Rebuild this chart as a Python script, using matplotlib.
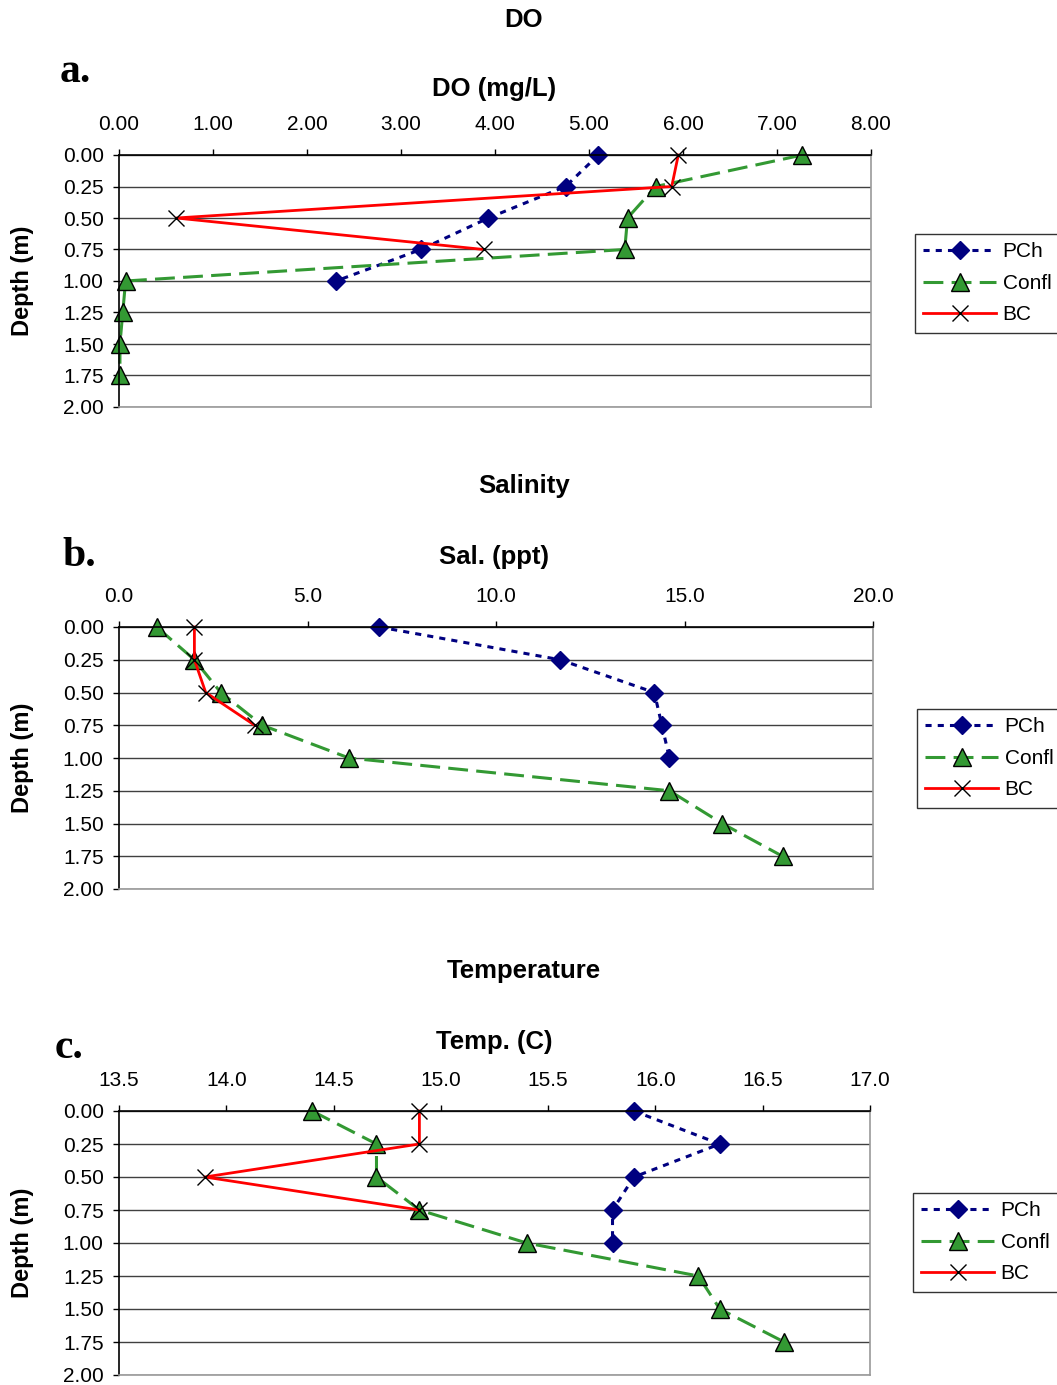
import matplotlib.pyplot as plt
from matplotlib.ticker import FormatStrFormatter

plt.rcParams['font.family'] = ['Liberation Sans', 'DejaVu Sans']

depth = [0.0, 0.25, 0.5, 0.75, 1.0, 1.25, 1.5, 1.75]

# DO (mg/L)
do_pch = [5.10, 4.75, 3.93, 3.21, 2.31]
do_confl = [7.27, 5.71, 5.41, 5.38, 0.07, 0.04, 0.01, 0.01]
do_bc = [5.95, 5.88, 0.61, 3.88]

# salinity (ppt)
sal_pch = [6.9, 11.7, 14.2, 14.4, 14.6]
sal_confl = [1.0, 2.0, 2.7, 3.8, 6.1, 14.6, 16.0, 17.6]
sal_bc = [2.0, 2.0, 2.3, 3.6]

# temperature (C)
temp_pch = [15.9, 16.3, 15.9, 15.8, 15.8]
temp_confl = [14.4, 14.7, 14.7, 14.9, 15.4, 16.2, 16.3, 16.6]
temp_bc = [14.9, 14.9, 13.9, 14.9]

W, H = 1057, 1385
fig = plt.figure(figsize=(W / 100, H / 100), dpi=100)

panels = [
    # title, letter, xlabel, pch, confl, bc, xlim, xstep, fmt, box(l,r,t,b), title_y, lab_y, letter(x,y), legend(x,y)
    ("DO", "a.", "DO (mg/L)", do_pch, do_confl, do_bc, (0, 8), 1.0, '%.2f',
     (119, 871, 155, 407), 20, 89, (60, 72), (915, 234)),
    ("Salinity", "b.", "Sal. (ppt)", sal_pch, sal_confl, sal_bc, (0, 20), 5.0, '%.1f',
     (119, 873, 627, 889), 486, 557, (62, 556), (917, 709)),
    ("Temperature", "c.", "Temp. (C)", temp_pch, temp_confl, temp_bc, (13.5, 17.0), 0.5, '%.1f',
     (119, 870, 1111, 1375), 971, 1042, (55, 1048), (913, 1193)),
]

for (title, letter, xlab, pch, confl, bc, xlim, xstep, fmt,
     box, ty, ly, lpos, legpos) in panels:
    l, r, t, b = box
    ax = fig.add_axes([l / W, 1 - b / H, (r - l) / W, (b - t) / H])

    ax.plot(pch, depth[:len(pch)], color='#000080', linestyle=(0, (2, 2)),
            linewidth=2.2, marker='D', markersize=9.5, label='PCh', clip_on=False)
    ax.plot(confl, depth[:len(confl)], color='#339933', linestyle=(0, (6.5, 2.7)),
            linewidth=2.2, marker='^', markersize=13, markerfacecolor='#339933',
            markeredgecolor='black', markeredgewidth=1.0, label='Confl', clip_on=False)
    ax.plot(bc, depth[:len(bc)], color='red', linestyle='-', linewidth=2.0,
            marker='x', markersize=12, markeredgecolor='black',
            markeredgewidth=1.0, label='BC', clip_on=False)

    ax.set_xlim(*xlim)
    ax.set_ylim(2.0, 0.0)
    n = int(round((xlim[1] - xlim[0]) / xstep))
    ax.set_xticks([xlim[0] + i * xstep for i in range(n + 1)])
    ax.set_yticks([i * 0.25 for i in range(9)])
    ax.xaxis.set_major_formatter(FormatStrFormatter(fmt))
    ax.yaxis.set_major_formatter(FormatStrFormatter('%.2f'))
    ax.xaxis.tick_top()
    ax.tick_params(axis='both', labelsize=15, length=4, width=1, direction='out')
    ax.tick_params(axis='x', pad=11)
    ax.tick_params(axis='y', pad=7)
    ax.yaxis.grid(True, color='#404040', linewidth=1.0)
    ax.set_axisbelow(True)
    ax.spines['left'].set_color('black')
    ax.spines['top'].set_color('black')
    ax.spines['right'].set_color('#999999')
    ax.spines['bottom'].set_color('#999999')
    for s in ax.spines.values():
        s.set_linewidth(1.2)

    fig.text(22 / W, 1 - (t + b) / 2 / H, 'Depth (m)', rotation=90, ha='center',
             va='center', fontsize=17, fontweight='bold')
    fig.text(524 / W, 1 - ty / H, title, ha='center', va='center',
             fontsize=18.5, fontweight='bold')
    fig.text(494 / W, 1 - ly / H, xlab, ha='center', va='center',
             fontsize=18.5, fontweight='bold')
    fig.text(lpos[0] / W, 1 - lpos[1] / H, letter, ha='left', va='center',
             fontsize=30, fontweight='bold', family='Liberation Serif')

    leg = ax.legend(loc='upper left', bbox_to_anchor=(legpos[0] / W, 1 - legpos[1] / H),
                    bbox_transform=fig.transFigure, frameon=True, fancybox=False,
                    edgecolor='black', fontsize=15, handlelength=3.5,
                    borderpad=0.4, labelspacing=0.6, handletextpad=0.3,
                    borderaxespad=0)
    leg.get_frame().set_linewidth(1.0)

fig.savefig('out.png', dpi=100)
